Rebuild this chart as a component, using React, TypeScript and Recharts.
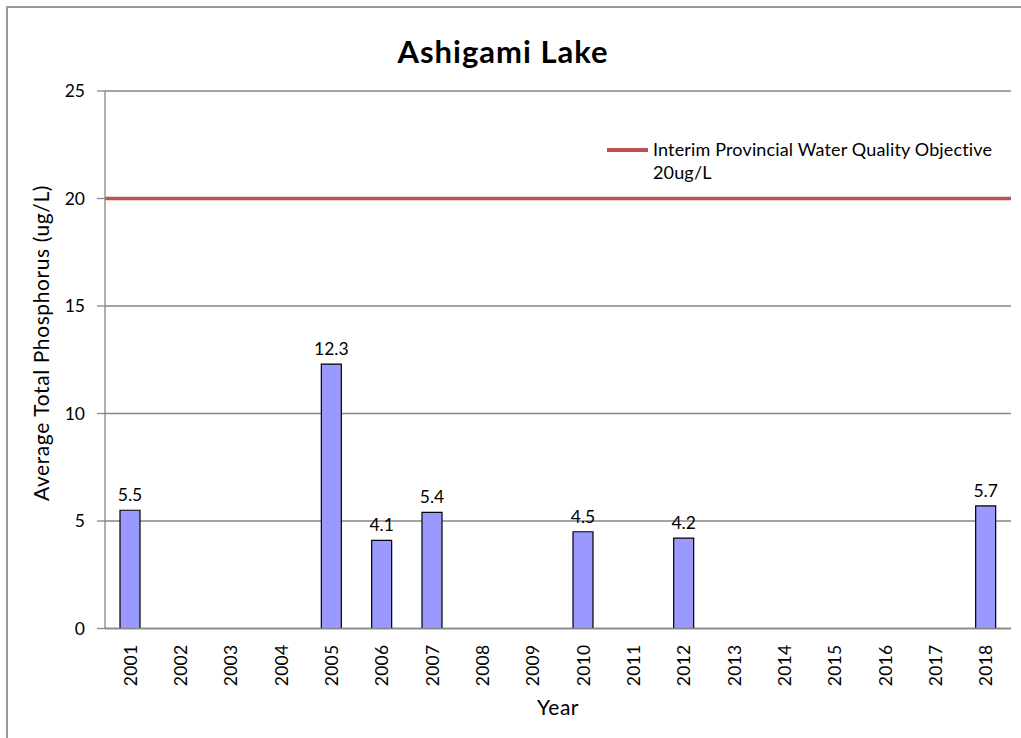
import React from 'react';
import {
  BarChart,
  Bar,
  XAxis,
  YAxis,
  CartesianGrid,
  ReferenceLine,
  LabelList,
  Legend,
} from 'recharts';

const YEARS = [
  '2001', '2002', '2003', '2004', '2005', '2006', '2007', '2008', '2009',
  '2010', '2011', '2012', '2013', '2014', '2015', '2016', '2017', '2018',
];
const PHOSPHORUS: (number | null)[] = [
  5.5, null, null, null, 12.3, 4.1, 5.4, null, null,
  4.5, null, 4.2, null, null, null, null, null, 5.7,
];
const Y_TICKS = [0, 5, 10, 15, 20, 25];
const BOUNDARY_TICKS = [0, 1, 2, 3, 4, 5, 6, 7, 8, 9, 10, 11, 12, 13, 14, 15, 16, 17, 18];
const OBJECTIVE = 20;
const OBJECTIVE_LABEL = ['Interim Provincial Water Quality Objective', '20ug/L'];

const data = YEARS.map((year, i) => ({ year, value: PHOSPHORUS[i] }));

const FONT = 'Lato, "Open Sans", sans-serif';
const AXIS = '#868686';
const RED = '#C0504D';

const YearTick = ({ x, y, payload }: any) => (
  <g transform={`translate(${x},${y}) rotate(-90)`}>
    <text
      x={-8}
      y={0}
      textAnchor="end"
      dominantBaseline="central"
      fontSize={17.5}
      letterSpacing={0.3}
      fill="#000"
      fontFamily={FONT}
    >
      {payload.value}
    </text>
  </g>
);

const ObjectiveLegend = () => (
  <div
    style={{
      display: 'flex',
      alignItems: 'flex-start',
      fontFamily: FONT,
      fontSize: 18,
      letterSpacing: 0.15,
      color: '#000',
    }}
  >
    <div style={{ width: 41, height: 4, background: RED, marginTop: 10, marginRight: 5 }} />
    <div style={{ lineHeight: '23px' }}>
      {OBJECTIVE_LABEL.map((t) => (
        <div key={t}>{t}</div>
      ))}
    </div>
  </div>
);

export default function App() {
  return (
    <div style={{ position: 'absolute', left: 0, top: 0, width: 1021, height: 738, overflow: 'hidden', background: '#fff' }}>
      <div
        style={{
          position: 'absolute',
          left: 6,
          top: 6,
          width: 1100,
          height: 800,
          border: '2px solid #9a9a9a',
          boxSizing: 'border-box',
        }}
      />
      <div style={{ position: 'absolute', left: 0, top: 0 }}>
        <BarChart
          width={1021}
          height={738}
          data={data}
          margin={{ top: 91, right: 10, left: 45, bottom: 29.5 }}
        >
          <CartesianGrid xAxisId="cat" vertical={false} stroke={AXIS} strokeWidth={1.3} />
          <XAxis
            xAxisId="bounds"
            type="number"
            domain={[0, 18]}
            ticks={BOUNDARY_TICKS}
            tick={false}
            tickSize={6}
            tickLine={{ stroke: AXIS, strokeWidth: 1.3 }}
            axisLine={false}
            height={0}
            allowDataOverflow
          />
          <XAxis
            xAxisId="cat"
            dataKey="year"
            interval={0}
            tickLine={false}
            axisLine={{ stroke: AXIS, strokeWidth: 1.3 }}
            tick={<YearTick />}
            height={80}
          />
          <YAxis
            domain={[0, 25]}
            ticks={Y_TICKS}
            width={60}
            tickSize={8}
            tickMargin={12}
            tickLine={{ stroke: AXIS, strokeWidth: 1.3 }}
            axisLine={{ stroke: AXIS, strokeWidth: 1.3 }}
            tick={{ fontSize: 17.5, fill: '#000', fontFamily: FONT }}
          />
          <ReferenceLine xAxisId="cat" y={OBJECTIVE} stroke={RED} strokeWidth={3.5} />
          <Legend
            layout="horizontal"
            verticalAlign="middle"
            align="center"
            content={<ObjectiveLegend />}
            wrapperStyle={{ left: 607, top: 138, width: 414 }}
          />
          <Bar
            xAxisId="cat"
            dataKey="value"
            barSize={20}
            fill="#9999FF"
            stroke="#000"
            strokeWidth={1.2}
            isAnimationActive={false}
          >
            <LabelList
              dataKey="value"
              position="top"
              offset={9}
              fontSize={17.5}
              fill="#000"
              fontFamily={FONT}
              formatter={(v: any) => (v == null ? '' : v)}
            />
          </Bar>
        </BarChart>
      </div>
      <div
        style={{
          position: 'absolute',
          left: 0,
          width: 1006,
          top: 32,
          textAlign: 'center',
          fontFamily: FONT,
          fontWeight: 700,
          fontSize: 31,
          letterSpacing: 1,
          color: '#000',
        }}
      >
        Ashigami Lake
      </div>
      <div
        style={{
          position: 'absolute',
          left: 40,
          top: 343,
          transform: 'translate(-50%, -50%) rotate(-90deg)',
          whiteSpace: 'nowrap',
          fontFamily: FONT,
          fontSize: 21,
          letterSpacing: 0.6,
          color: '#000',
        }}
      >
        Average Total Phosphorus (ug/L)
      </div>
      <div
        style={{
          position: 'absolute',
          left: 558,
          top: 706,
          transform: 'translate(-50%, -50%)',
          fontFamily: FONT,
          fontSize: 21,
          letterSpacing: 0.5,
          color: '#000',
        }}
      >
        Year
      </div>
    </div>
  );
}
